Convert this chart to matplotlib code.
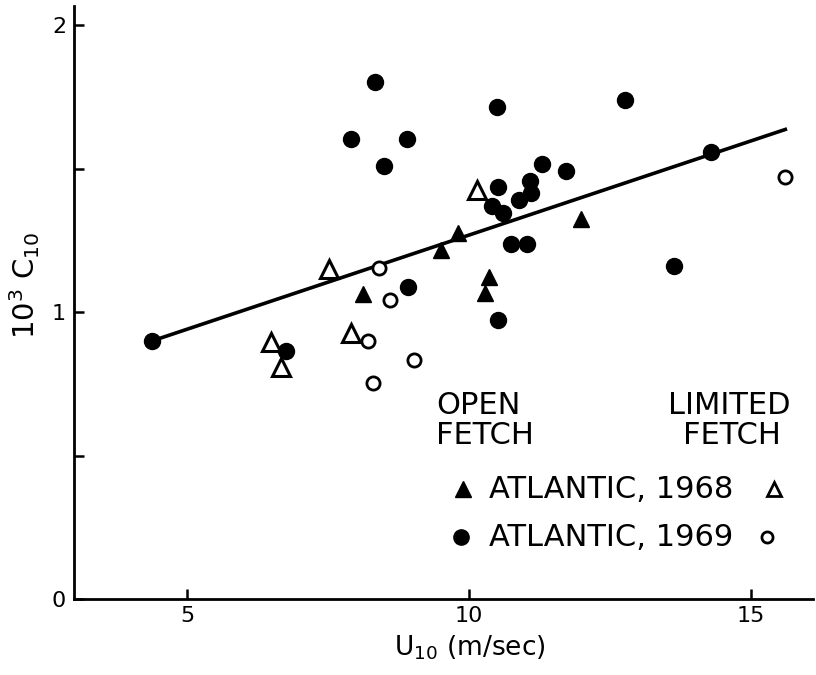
import matplotlib
matplotlib.use("Agg")
import matplotlib.pyplot as plt

# ---- data (U10 in m/s, 10^3 C10) ----
open_1968_u = [8.12, 9.50, 9.80, 10.36, 10.28, 11.98]
open_1968_c = [1.064, 1.217, 1.275, 1.124, 1.066, 1.325]

lim_1968_u = [10.14, 7.52, 6.48, 6.67, 7.91]
lim_1968_c = [1.426, 1.150, 0.898, 0.810, 0.927]

open_1969_u = [4.37, 6.75, 7.90, 8.34, 8.50, 8.90, 8.91, 10.49, 10.51, 10.41,
               10.61, 10.89, 11.08, 11.10, 11.30, 11.72, 10.74, 11.02, 10.52,
               12.76, 14.29, 13.63]
open_1969_c = [0.900, 0.866, 1.604, 1.803, 1.510, 1.603, 1.087, 1.716, 1.437,
               1.371, 1.345, 1.391, 1.457, 1.415, 1.517, 1.493, 1.239, 1.239,
               0.972, 1.740, 1.560, 1.162]

lim_1969_u = [8.41, 8.59, 8.21, 9.03, 8.30, 15.60]
lim_1969_c = [1.153, 1.043, 0.901, 0.834, 0.755, 1.472]

fit_intercept = 0.613
fit_slope = 0.0656
fit_u_range = [4.37, 15.64]

x_ticks = [5, 10, 15]
x_tick_labels = ["5", "10", "15"]
y_ticks = [0, 0.5, 1, 1.5, 2]
y_tick_labels = ["0", "", "1", "", "2"]

legend_rows = ["ATLANTIC, 1968", "ATLANTIC, 1969"]

# ---- figure ----
fig = plt.figure(figsize=(8.16, 6.75), dpi=100)
ax = fig.add_axes([0.0911, 0.1121, 0.9052, 0.879])

fit_c = [fit_intercept + fit_slope * u for u in fit_u_range]
ax.plot(fit_u_range, fit_c, color="black", lw=2.6, solid_capstyle="butt", zorder=2)

ax.plot(open_1969_u, open_1969_c, "o", ms=11.5, mfc="black", mec="black", ls="none", zorder=3)
ax.plot(lim_1969_u, lim_1969_c, "o", ms=9.5, mfc="white", mec="black", mew=2.0, ls="none", zorder=3)
ax.plot(open_1968_u, open_1968_c, "^", ms=12, mfc="black", mec="black", ls="none", zorder=3)
ax.plot(lim_1968_u, lim_1968_c, "^", ms=13, mfc="white", mec="black", mew=2.2, ls="none", zorder=3)

ax.set_xlim(3.0, 16.1)
ax.set_ylim(0, 2.067)

for s in ["top", "right"]:
    ax.spines[s].set_visible(False)
for s in ["left", "bottom"]:
    ax.spines[s].set_linewidth(2.0)

ax.set_xticks(x_ticks)
ax.set_xticklabels(x_tick_labels)
ax.set_yticks(y_ticks)
ax.set_yticklabels(y_tick_labels)
ax.tick_params(axis="both", direction="in", length=7, width=1.8, labelsize=16)
ax.tick_params(axis="x", pad=5)
ax.tick_params(axis="y", pad=6)

ax.set_xlabel(r"U$_{10}$ (m/sec)", fontsize=19)
ax.xaxis.set_label_coords(0.536, -0.082)
ax.xaxis.label.set_va("center")
ax.set_ylabel(r"10$^3$ C$_{10}$", fontsize=21)
ax.yaxis.set_label_coords(-0.067, 0.53)
ax.yaxis.label.set_va("center")

# ---- legend / annotations ----
tfs = 22
ax.text(9.42, 0.677, "OPEN", fontsize=tfs, ha="left", va="center")
ax.text(9.42, 0.572, "FETCH", fontsize=tfs, ha="left", va="center")
ax.text(13.52, 0.677, "LIMITED", fontsize=tfs, ha="left", va="center")
ax.text(13.80, 0.572, "FETCH", fontsize=tfs, ha="left", va="center")

ax.plot([9.885], [0.384], "^", ms=11, mfc="black", mec="black", ls="none")
ax.text(10.36, 0.384, legend_rows[0], fontsize=tfs, ha="left", va="center")
ax.plot([15.41], [0.384], "^", ms=10, mfc="white", mec="black", mew=2.0, ls="none")

ax.plot([9.85], [0.217], "o", ms=11, mfc="black", mec="black", ls="none")
ax.text(10.36, 0.217, legend_rows[1], fontsize=tfs, ha="left", va="center")
ax.plot([15.29], [0.217], "o", ms=8, mfc="white", mec="black", mew=2.0, ls="none")

fig.savefig("out.png", dpi=100)
